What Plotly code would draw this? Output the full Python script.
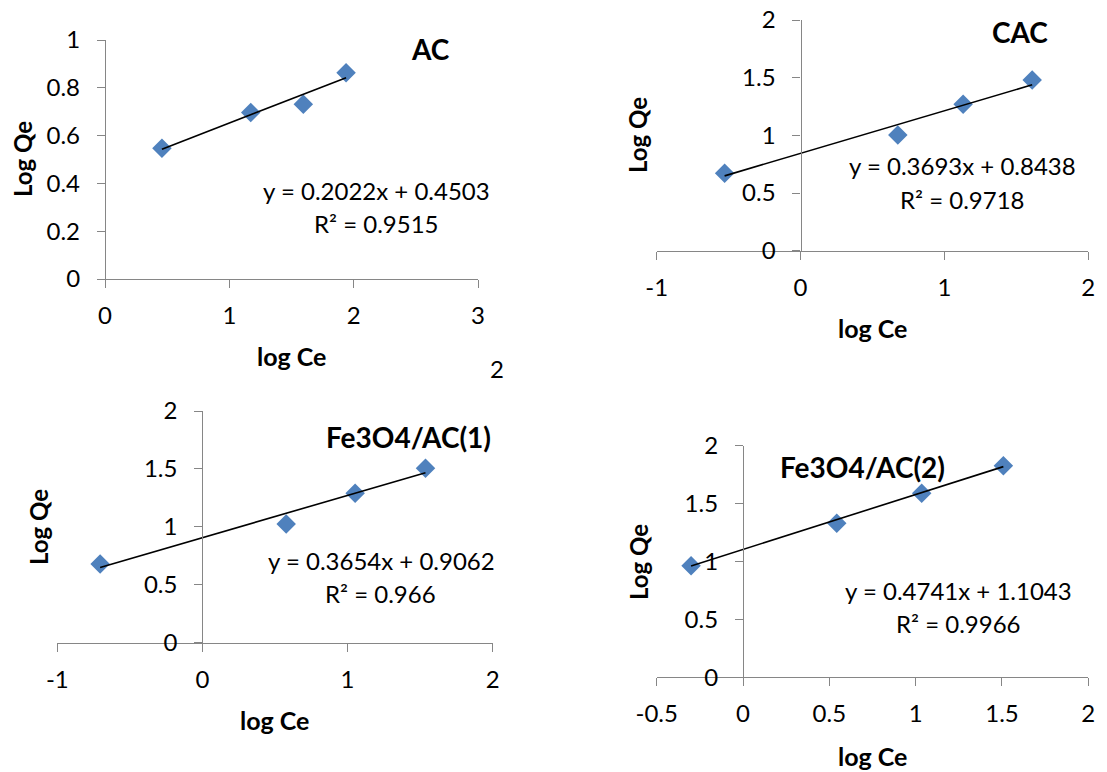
import plotly.graph_objects as go

W, H = 1107, 772

# ---------------- data ----------------
panel_names = ["AC", "CAC", "Fe3O4/AC(1)", "Fe3O4/AC(2)"]
ac_x = [0.458, 1.172, 1.595, 1.939]
ac_y = [0.547, 0.697, 0.731, 0.863]
cac_x = [-0.528, 0.676, 1.130, 1.610]
cac_y = [0.671, 1.003, 1.270, 1.480]
fe1_x = [-0.705, 0.577, 1.052, 1.537]
fe1_y = [0.680, 1.025, 1.290, 1.506]
fe2_x = [-0.301, 0.543, 1.035, 1.508]
fe2_y = [0.964, 1.330, 1.589, 1.827]
slopes = [0.2022, 0.3693, 0.3654, 0.4741]
intercepts = [0.4503, 0.8438, 0.9062, 1.1043]
eq_texts = ["y = 0.2022x + 0.4503", "y = 0.3693x + 0.8438",
            "y = 0.3654x + 0.9062", "y = 0.4741x + 1.1043"]
r2_texts = ["R² = 0.9515", "R² = 0.9718", "R² = 0.966", "R² = 0.9966"]

x_ranges = [[0, 3], [-1, 2], [-1, 2], [-0.5, 2]]
y_ranges = [[0, 1], [0, 2], [0, 2], [0, 2]]
x_tickvals = [[0, 1, 2, 3], [-1, 0, 1, 2], [-1, 0, 1, 2], [-0.5, 0, 0.5, 1, 1.5, 2]]
x_ticktext = [["0", "1", "2", "3"], ["-1", "0", "1", "2"], ["-1", "0", "1", "2"],
              ["-0.5", "0", "0.5", "1", "1.5", "2"]]
y_tickvals = [[0, 0.2, 0.4, 0.6, 0.8, 1], [0, 0.5, 1, 1.5, 2], [0, 0.5, 1, 1.5, 2], [0, 0.5, 1, 1.5, 2]]
y_ticktext = [["0", "0.2", "0.4", "0.6", "0.8", "1"], ["0", "0.5", "1", "1.5", "2"],
              ["0", "0.5", "1", "1.5", "2"], ["0", "0.5", "1", "1.5", "2"]]
xs = [ac_x, cac_x, fe1_x, fe2_x]
ys = [ac_y, cac_y, fe1_y, fe2_y]

# ---------------- layout geometry (pixels) ----------------
plot_px = [  # x0, x1, ytop, ybottom
    (105, 478, 40, 279),
    (656.7, 1088.3, 20, 250.7),
    (57.3, 492.7, 411, 642.7),
    (656.7, 1088.3, 445.7, 677.3),
]
title_pos = [(430, 49), (1020, 32), (408, 437), (862, 467)]
eq_pos = [(376, 190), (962, 165), (381, 560), (958, 590)]
r2_pos = [(376, 223), (962, 199), (380, 593), (958, 623)]
xt_pos = [(292, 356), (872, 328), (274, 720), (872, 756)]
yt_pos = [(22, 159), (638, 135), (38, 527), (638, 562)]

FONT = "Lato"
AX = "#868686"
MARK = "#4F81BD"
FS = 24


def px(x):
    return x / W


def py(y):
    return 1 - y / H


fig = go.Figure()
layout = dict(width=W, height=H, margin=dict(l=0, r=0, t=0, b=0, pad=0, autoexpand=False),
              paper_bgcolor="white", plot_bgcolor="white", showlegend=False,
              font=dict(family=FONT, color="black"))
annotations = []

for i in range(4):
    n = "" if i == 0 else str(i + 1)
    xa, ya = "x" + n, "y" + n
    x0, x1, yt, yb = plot_px[i]
    xr = x_ranges[i]
    # trendline from fitted equation
    lx = [min(xs[i]), max(xs[i])]
    ly = [slopes[i] * v + intercepts[i] for v in lx]
    fig.add_trace(go.Scatter(x=xs[i], y=ys[i], mode="markers", cliponaxis=False,
                             marker=dict(symbol="diamond", size=15, color=MARK, line=dict(width=0)),
                             xaxis=xa, yaxis=ya))
    fig.add_trace(go.Scatter(x=lx, y=ly, mode="lines", line=dict(color="black", width=1.6),
                             xaxis=xa, yaxis=ya, hoverinfo="skip", cliponaxis=False))
    zero_px = x0 + (0 - xr[0]) / (xr[1] - xr[0]) * (x1 - x0)
    layout["xaxis" + n] = dict(domain=[px(x0), px(x1)], range=xr, anchor=ya,
                               showline=True, linecolor=AX, linewidth=1.3,
                               ticks="outside", ticklen=8, tickcolor=AX, tickwidth=1.3,
                               tickvals=x_tickvals[i], ticktext=x_ticktext[i],
                               ticklabelstandoff=7,
                               tickfont=dict(size=FS, family=FONT, color="black"),
                               showgrid=False, zeroline=False, fixedrange=True, automargin=False)
    layout["yaxis" + n] = dict(domain=[py(yb), py(yt)], range=y_ranges[i], anchor="free",
                               position=px(zero_px),
                               showline=True, linecolor=AX, linewidth=1.3,
                               ticks="outside", ticklen=8, tickcolor=AX, tickwidth=1.3,
                               tickvals=y_tickvals[i], ticktext=y_ticktext[i],
                               ticklabelstandoff=12,
                               tickfont=dict(size=FS, family=FONT, color="black"),
                               showgrid=False, zeroline=False, fixedrange=True, automargin=False)
    annotations.append(dict(text="<b>%s</b>" % panel_names[i], x=px(title_pos[i][0]), y=py(title_pos[i][1]),
                            xref="paper", yref="paper", showarrow=False, xanchor="center", yanchor="middle",
                            font=dict(size=28, family=FONT, color="black")))
    annotations.append(dict(text=eq_texts[i], x=px(eq_pos[i][0]), y=py(eq_pos[i][1]),
                            xref="paper", yref="paper", showarrow=False, xanchor="center", yanchor="middle",
                            font=dict(size=FS, family=FONT, color="black")))
    annotations.append(dict(text=r2_texts[i], x=px(r2_pos[i][0]), y=py(r2_pos[i][1]),
                            xref="paper", yref="paper", showarrow=False, xanchor="center", yanchor="middle",
                            font=dict(size=FS, family=FONT, color="black")))
    annotations.append(dict(text="<b>log Ce</b>", x=px(xt_pos[i][0]), y=py(xt_pos[i][1]),
                            xref="paper", yref="paper", showarrow=False, xanchor="center", yanchor="middle",
                            font=dict(size=25, family=FONT, color="black")))
    annotations.append(dict(text="<b>Log Qe</b>", x=px(yt_pos[i][0]), y=py(yt_pos[i][1]), textangle=-90,
                            xref="paper", yref="paper", showarrow=False, xanchor="center", yanchor="middle",
                            font=dict(size=24, family=FONT, color="black")))

# stray label from the source figure
annotations.append(dict(text="2", x=px(497), y=py(369), xref="paper", yref="paper", showarrow=False,
                        xanchor="center", yanchor="middle", font=dict(size=FS, family=FONT, color="black")))

layout["annotations"] = annotations
fig.update_layout(**layout)
fig.write_html("out.html")
